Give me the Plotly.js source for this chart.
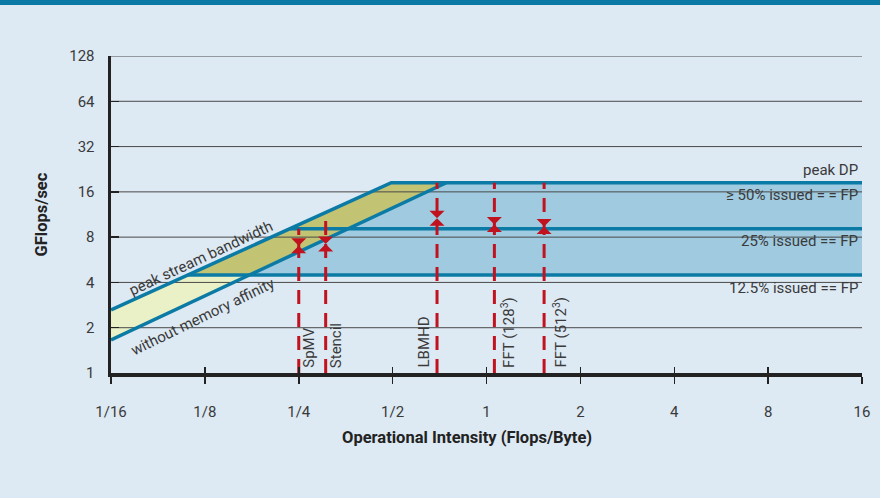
<!DOCTYPE html>
<html><head><meta charset="utf-8">
<script src="https://cdn.plot.ly/plotly-3.0.1.min.js"></script>
<style>html,body{margin:0;padding:0;background:#dde9f3;}#chart{width:880px;height:498px;}</style>
</head><body><div id="chart"></div>
<script>
// ---- data ----
const xTickVals = [0.0625, 0.125, 0.25, 0.5, 1, 2, 4, 8, 16];
const xTickText = ['1/16', '1/8', '1/4', '1/2', '1', '2', '4', '8', '16'];
const yTickVals = [1, 2, 4, 8, 16, 32, 64, 128];
const yTickText = ['1', '2', '4', '8', '16', '32', '64', '128'];

const peakBwX = [0.0625, 0.495];
const peakBwY = [2.63, 18.4];
const noAffX = [0.0625, 0.743];
const noAffY = [1.66, 18.4];

const ceilingVals = [18.4, 9.1, 4.48];
const ceilingLabels = ['peak DP', '\u2265 50% issued = = FP', '25% issued == FP', '12.5% issued == FP'];
const ceilingLabelAnchor = [18.4, 18.4, 9.1, 4.48];

const kernelNames = ['SpMV', 'Stencil', 'LBMHD', 'FFT (128<sup>3</sup>)', 'FFT (512<sup>3</sup>)'];
const kernelOI = [0.25, 0.305, 0.694, 1.06, 1.53];
const kernelPerf = [7.0, 7.2, 10.7, 9.7, 9.4];
const kernelRoof = [9.1, 11.4, 18.4, 18.4, 18.4];

const diagLabels = ['peak stream bandwidth', 'without memory affinity'];
const diagLabelX = [0.1219, 0.1226];
const diagLabelY = [5.79, 2.36];

// ---- styles ----
const TEAL = '#0b7ba5', RED = '#c1121f', TXT = '#3a3a3a';
const FONT = 'Roboto, "DejaVu Sans", sans-serif';
const xMin = xTickVals[0], xMax = xTickVals[xTickVals.length - 1];
const yMin = yTickVals[0], yMax = yTickVals[yTickVals.length - 1];

function xAt(xs, ys, yv) { // log-log interpolation on a line
  const lx0 = Math.log(xs[0]), lx1 = Math.log(xs[1]);
  const ly0 = Math.log(ys[0]), ly1 = Math.log(ys[1]);
  const t = (Math.log(yv) - ly0) / (ly1 - ly0);
  return Math.exp(lx0 + t * (lx1 - lx0));
}
const cLow = ceilingVals[2], cTop = ceilingVals[0];
const xU = xAt(peakBwX, peakBwY, cLow), xL = xAt(noAffX, noAffY, cLow);

const traces = [];
const fillT = (x, y, c) => ({x, y, mode: 'lines', fill: 'toself', fillcolor: c, line: {width: 0}, hoverinfo: 'skip', showlegend: false});
traces.push(fillT([peakBwX[0], xU, xL, noAffX[0]], [peakBwY[0], cLow, cLow, noAffY[0]], '#eaf1c6'));
traces.push(fillT([xU, peakBwX[1], noAffX[1], xL], [cLow, cTop, cTop, cLow], '#c3c374'));
traces.push(fillT([xL, noAffX[1], xMax, xMax], [cLow, cTop, cTop, cLow], '#9fcadf'));

// gridlines
const gx = [], gy = [];
yTickVals.slice(1).forEach(v => { gx.push(xMin, xMax, null); gy.push(v, v, null); });
traces.push({x: gx, y: gy, mode: 'lines', line: {color: '#4a4a4a', width: 1}, hoverinfo: 'skip', showlegend: false});

// roofline lines
const lineT = (x, y) => ({x, y, mode: 'lines', line: {color: TEAL, width: 3.5}, hoverinfo: 'skip', showlegend: false});
traces.push(lineT([peakBwX[0], peakBwX[1], xMax], [peakBwY[0], peakBwY[1], cTop]));
traces.push(lineT(noAffX, noAffY));
ceilingVals.slice(1).forEach(c => traces.push(lineT([xAt(peakBwX, peakBwY, c), xMax], [c, c])));

// kernels
kernelOI.forEach((oi, i) => traces.push({x: [oi, oi], y: [yMin, kernelRoof[i]], mode: 'lines',
  line: {color: RED, width: 3, dash: '14px,9px'}, hoverinfo: 'skip', showlegend: false}));
traces.push({x: kernelOI, y: kernelPerf, mode: 'markers', marker: {symbol: 'hourglass', size: 15, color: RED},
  hoverinfo: 'skip', showlegend: false});
// dummy for overlay axis
traces.push({x: [1], y: [1], xaxis: 'x2', mode: 'markers', marker: {opacity: 0}, hoverinfo: 'skip', showlegend: false});

const kernelShift = [10, 10, -14, 13, 15];
const annotations = [];
kernelNames.forEach((n, i) => annotations.push({x: Math.log10(kernelOI[i]), y: Math.log10(yMin), xref: 'x', yref: 'y',
  text: n, textangle: -90, showarrow: false, xanchor: 'center', yanchor: 'bottom', xshift: kernelShift[i], yshift: 3,
  font: {family: FONT, size: 15, color: TXT}}));
const ceilShift = [13, -12, -12, -13];
ceilingLabels.forEach((t, i) => annotations.push({x: Math.log10(xMax), y: Math.log10(ceilingLabelAnchor[i]), xref: 'x', yref: 'y',
  text: t, showarrow: false, xanchor: 'right', yanchor: 'middle', xshift: -2, yshift: ceilShift[i],
  font: {family: FONT, size: 15, color: TXT}}));
const diagAngle = [-25, -26];
diagLabels.forEach((t, i) => annotations.push({x: Math.log10(diagLabelX[i]), y: Math.log10(diagLabelY[i]), xref: 'x', yref: 'y',
  text: t, textangle: diagAngle[i], showarrow: false, xanchor: 'center', yanchor: 'middle',
  font: {family: FONT, size: 15, color: TXT}}));
annotations.push({x: 0.474, y: -0.205, xref: 'paper', yref: 'paper', text: '<b>Operational Intensity (Flops/Byte)</b>',
  showarrow: false, xanchor: 'center', yanchor: 'middle', font: {family: FONT, size: 16.5, color: '#222'}});
annotations.push({x: -0.0919, y: 0.5, xref: 'paper', yref: 'paper', text: '<b>GFlops/sec</b>', textangle: -90,
  showarrow: false, xanchor: 'center', yanchor: 'middle', font: {family: FONT, size: 16.5, color: '#222'}});

const xr = [Math.log10(xMin), Math.log10(xMax)];
const layout = {
  width: 880, height: 498,
  margin: {l: 111, r: 18, t: 56, b: 125, pad: 0},
  paper_bgcolor: '#dde9f3', plot_bgcolor: '#dde9f3',
  showlegend: false,
  xaxis: {type: 'log', range: xr, tickvals: xTickVals, ticktext: xTickText, showgrid: false, zeroline: false,
    showline: true, linecolor: '#222', linewidth: 3.5, ticks: 'outside', ticklen: 7, tickwidth: 1.5, tickcolor: '#222',
    ticklabelstandoff: 15, tickfont: {family: FONT, size: 15, color: TXT}},
  xaxis2: {type: 'log', range: xr, overlaying: 'x', anchor: 'y', side: 'bottom', tickvals: xTickVals, showticklabels: false,
    showgrid: false, zeroline: false, showline: false, ticks: 'inside', ticklen: 6, tickwidth: 1.5, tickcolor: '#222'},
  yaxis: {type: 'log', range: [Math.log10(yMin), Math.log10(yMax)], tickvals: yTickVals, ticktext: yTickText,
    showgrid: false, zeroline: false, showline: true, linecolor: '#222', linewidth: 3.5,
    ticks: 'inside', ticklen: 8, tickwidth: 1.5, tickcolor: '#222', ticklabelstandoff: 10,
    tickfont: {family: FONT, size: 15, color: TXT}},
  shapes: [{type: 'rect', xref: 'paper', yref: 'paper', x0: -0.2, x1: 1.1, y0: 1.1609, y1: 1.19, fillcolor: '#0a7aa5', line: {width: 0}}],
  annotations
};
Plotly.newPlot('chart', traces, layout, {staticPlot: true, displayModeBar: false});
</script></body></html>
